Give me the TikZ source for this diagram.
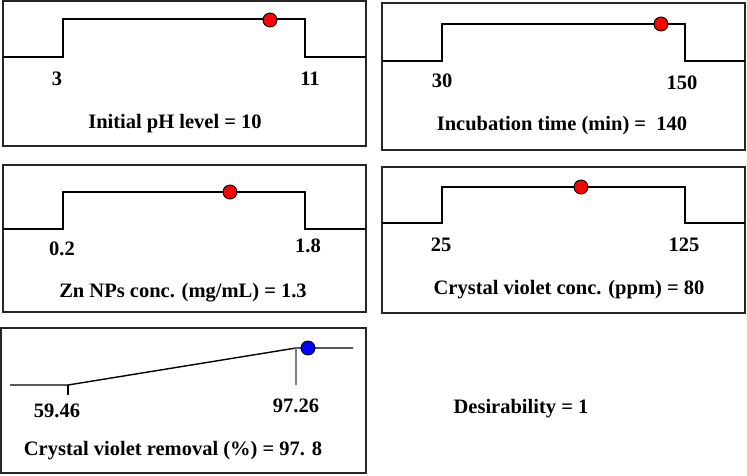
\documentclass[tikz,border=0pt]{standalone}
\usepackage{fontspec}
\setmainfont{Liberation Serif}
\usepackage{tikz}
\tikzset{
  panel/.style={draw=black!85, line width=1.6pt},
  curve/.style={draw=black, line width=1.4pt},
  optdot/.style={draw=black, line width=0.9pt, fill=red},
  lbl/.style={anchor=base, inner sep=0pt, font=\fontsize{20.5}{24}\selectfont\bfseries},
}

\begin{document}
\begin{tikzpicture}[x=1pt,y=-1pt]
				\useasboundingbox (0,0) rectangle (747,475);
				
				% initial pH
				\draw[panel] (3, 1) rectangle (366, 146);
				\draw[curve] (3, 57) -- (63, 57) -- (63, 19) -- (305, 19) -- (305, 57) -- (366, 57);
				\draw[optdot] (270, 20) circle (7);
				\node[lbl] (phlo) at (57, 85) {3};
				\node[lbl] (phhi) at (310, 85) {11};
				\node[lbl] (phttl) at (175, 128) {Initial pH level = 10};
				
				% incubation time
				\draw[panel] (382, 3) rectangle (745, 150);
				\draw[curve] (382, 61) -- (442, 61) -- (442, 24) -- (685, 24) -- (685, 61) -- (745, 61);
				\draw[optdot] (661, 24) circle (7);
				\node[lbl] (tmlo) at (442, 87) {30};
				\node[lbl] (tmhi) at (682, 89) {150};
				\node[lbl] (tmttl) at (562, 130) {Incubation time (min) =\ \ 140};
				
				% Zn NPs conc.
				\draw[panel] (3, 165) rectangle (366, 312);
				\draw[curve] (3, 229) -- (63, 229) -- (63, 192) -- (305, 192) -- (305, 229) -- (366, 229);
				\draw[optdot] (230, 192) circle (7);
				\node[lbl] (znlo) at (62, 255) {0.2};
				\node[lbl] (znhi) at (308, 252) {1.8};
				\node[lbl] (znttl) at (183, 297) {Zn NPs conc. (mg/mL) = 1.3};
				
				% crystal violet conc.
				\draw[panel] (382, 167) rectangle (745, 313);
				\draw[curve] (382, 223) -- (442, 223) -- (442, 187) -- (685, 187) -- (685, 223) -- (745, 223);
				\draw[optdot] (581, 187) circle (7);
				\node[lbl] (cvlo) at (441, 251) {25};
				\node[lbl] (cvhi) at (684, 251) {125};
				\node[lbl] (cvttl) at (569, 294) {Crystal violet conc. (ppm) = 80};
				
				% removal
				\draw[panel] (1, 328) rectangle (366, 473);
				\draw[curve] (10, 385) -- (68, 385) -- (296, 348) -- (353, 348);
				\draw[curve, line width=1.1pt] (68, 385) -- (68, 395);
				\draw[draw=gray, line width=1.4pt] (296, 348) -- (296, 385);
				\draw[optdot, fill=blue] (308, 348) circle (7);
				\node[lbl] (rmlo) at (57, 417) {59.46};
				\node[lbl] (rmhi) at (296, 412) {97.26};
				\node[lbl] (rmttl) at (173, 455) {Crystal violet removal (\%) = 97. 8};
				
				\node[lbl] (desir) at (521, 413) {Desirability = 1};
			\end{tikzpicture}
\end{document}
